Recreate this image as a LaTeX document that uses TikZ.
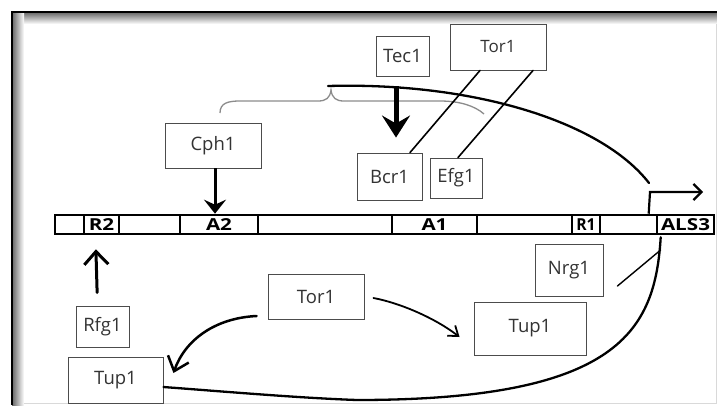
\documentclass[tikz,border=0pt]{standalone}
\usepackage{fontspec}
\usepackage{graphicx}
\setmainfont{Open Sans}
\usetikzlibrary{arrows.meta,calc}
\newcommand{\barlabel}[1]{\scalebox{1.25}[1]{#1}}
\begin{document}
\begin{tikzpicture}[x=1pt,y=-1pt,
  box/.style={draw=black!70, line width=0.9pt, fill=white, inner sep=0pt,
    font=\fontsize{18.5}{21}\selectfont, text=black!80},
  cell/.style={draw=black, line width=2.6pt, minimum height=19pt, inner sep=0pt,
    font=\bfseries\fontsize{16.5}{17}\selectfont},
  link/.style={line width=1.6pt, line cap=round},
  curve/.style={line width=2.3pt, line cap=round},
  heavyarrow/.style={line width=5pt, -{Stealth[length=22pt,width=28pt,inset=8pt]}},
  midarrow/.style={line width=3pt, -{Stealth[length=14pt,width=22pt,inset=5pt]}},
  barbarrow/.style={line width=3pt, line cap=round, -{Straight Barb[length=13pt,width=24pt]}},
]
\useasboundingbox (0,0) rectangle (717,405);
% page and shaded photo frame
\fill[white] (0,0) rectangle (717,405);
\shade[top color=black!60, bottom color=white] (12,12) rectangle (717,24);
\shade[left color=black!60, right color=white] (12,12) rectangle (24,405);
\draw[black, line width=2pt] (12,405) -- (12,12) -- (717,12);
\draw[black!15, line width=1pt] (716,24) -- (716,403) -- (24,403);

% gene bar
\node[cell, minimum width=29pt]  (c0)   at (69.5,224.5) {};
\node[cell, minimum width=35pt]  (r2)   at (101.5,224.5) {\barlabel{R2}};
\node[cell, minimum width=61pt]  (c1)   at (149.5,224.5) {};
\node[cell, minimum width=78pt]  (a2)   at (219,224.5) {\barlabel{A2}};
\node[cell, minimum width=134pt] (c2)   at (325,224.5) {};
\node[cell, minimum width=85pt]  (a1)   at (434.5,224.5) {\barlabel{A1}};
\node[cell, minimum width=95pt]  (c3)   at (524.5,224.5) {};
\node[cell, minimum width=28pt]  (r1)   at (586,224.5) {\scalebox{0.95}[1]{R1}};
\node[cell, minimum width=57pt]  (c4)   at (628.5,224.5) {};
\node[cell, minimum width=57pt]  (als3) at (685.5,224.5) {\barlabel{ALS3}};

% factor boxes
\node[box, minimum width=96pt, minimum height=45pt] (cph)  at (213,145.5) {Cph1};
\node[box, minimum width=53pt, minimum height=40pt] (tec)  at (402.5,56) {Tec1};
\node[box, minimum width=96pt, minimum height=46pt, font=\fontsize{17}{20}\selectfont] (tort) at (498,47) {Tor1};
\node[box, minimum width=65pt, minimum height=47pt] (bcr)  at (389.5,176.5) {Bcr1};
\node[box, minimum width=52pt, minimum height=40pt] (efg)  at (456,178) {Efg1};
\node[box, minimum width=53pt, minimum height=41pt] (rfg)  at (102.5,326.5) {Rfg1};
\node[box, minimum width=95pt, minimum height=46pt] (tupl) at (115.5,380) {Tup1};
\node[box, minimum width=96pt, minimum height=45pt] (torb) at (316,296.5) {Tor1};
\node[box, minimum width=112pt, minimum height=53pt] (tupr) at (530,328.5) {Tup1};
\node[box, minimum width=68pt, minimum height=52pt] (nrg)  at (569,270) {Nrg1};

% upstream brace over the A2--A1 region
\draw[black!45, line width=1.3pt]
  (220,113) .. controls (220,103) and (228,101) .. (240,101) -- (318,101)
  .. controls (326,101) and (330,98) .. (331,90)
  .. controls (332,98) and (336,101) .. (344,101) -- (440,101)
  .. controls (460,101) and (475,106) .. (484,114);

% long-range loop towards the promoter
\coordinate (loopstart) at (328,86);
\coordinate (loopend) at (649,183);
\draw[curve] (loopstart) .. controls (470,82) and (600,120) .. (loopend);

% transcription start arrow
\coordinate (tss) at (650,192);
\draw[line width=2.2pt, -{Straight Barb[length=8pt,width=16pt]}]
  ([xshift=-7pt]als3.north west) -- (tss) -- ++(53,0);

% Tor1 links to Bcr1 and Efg1
\draw[link] ([xshift=-18pt]tort.south) -- ([xshift=20.5pt]bcr.north);
\draw[link] ([xshift=35pt]tort.south) -- ([xshift=2pt]efg.north);

% activating arrows
\draw[heavyarrow, shorten <=10pt, shorten >=15pt] ([xshift=-6.5pt]tec.south) -- ([xshift=6.5pt]bcr.north);
\draw[midarrow] ([xshift=2pt]cph.south) -- ([xshift=-4pt]a2.north);
\draw[barbarrow, shorten <=13pt, shorten >=14pt] ([xshift=-5pt]rfg.north) -- ([xshift=-6pt]r2.south);

% Tor1 to the two Tup1 boxes
\draw[line width=2.5pt, line cap=round, -{Straight Barb[length=13pt,width=22pt]}]
  ([yshift=-19.5pt,xshift=-11pt]torb.west) .. controls (215,318) and (185,340) ..
  ([xshift=10pt,yshift=7pt]tupl.east);
\draw[line width=1.8pt, line cap=round, -{Straight Barb[length=9pt,width=13pt]}]
  ([xshift=9pt,yshift=-1.5pt]torb.east) .. controls (400,303) and (435,318) ..
  ([xshift=-14pt,yshift=-8.5pt]tupr.west);

% repression loop from Tup1 to ALS3, joined by the Nrg1 stroke
\draw[curve] ([yshift=-7pt]tupl.east) .. controls (230,392) and (300,398) .. (357,400)
  .. controls (620,400) and (655,330) .. coordinate[pos=0.95] (nrgjoin)
  ([xshift=5pt,yshift=-2pt]als3.south west);
\draw[line width=1.4pt, line cap=round] ([xshift=14pt,yshift=-16pt]nrg.east) -- ([xshift=1pt,yshift=1pt]nrgjoin);
\end{tikzpicture}
\end{document}
